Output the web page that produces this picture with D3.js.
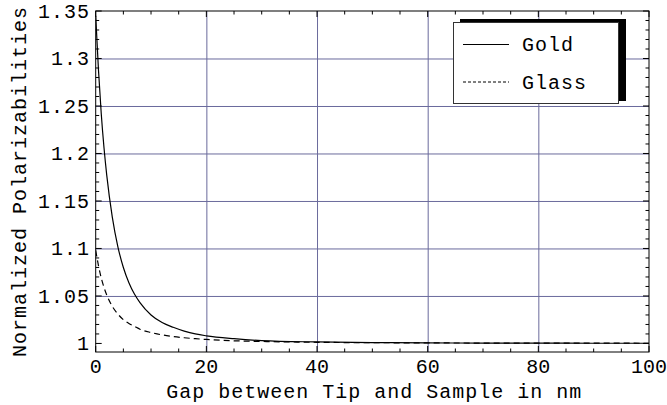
<!DOCTYPE html>
<html>
<head>
<meta charset="utf-8">
<script src="https://cdn.jsdelivr.net/npm/d3@7"></script>
<style>
  body { margin: 0; background: #fff; }
  text { font-family: "Liberation Mono", "DejaVu Sans Mono", monospace; }
</style>
</head>
<body>
<script>
// gap in nm
let gaps = [0, 0.5, 1, 1.5, 2, 3, 4, 5, 6, 7, 8, 10, 12, 14, 16, 18, 20, 25, 30, 40, 50, 60, 70, 80, 90, 100];
let goldValues = [1.345, 1.288, 1.242, 1.206, 1.177, 1.133, 1.102, 1.080, 1.064, 1.052, 1.043, 1.030, 1.022, 1.017,
    1.013, 1.010, 1.008, 1.005, 1.003, 1.0016, 1.0009, 1.0006, 1.0004, 1.0003, 1.0002, 1.0002];
let glassValues = [1.098, 1.082, 1.069, 1.059, 1.051, 1.039, 1.031, 1.025, 1.021, 1.018, 1.015, 1.0115, 1.009, 1.0073,
    1.006, 1.005, 1.0042, 1.0028, 1.0021, 1.0012, 1.0008, 1.0006, 1.0004, 1.0003, 1.0003, 1.0002];
let xTicks = [0, 20, 40, 60, 80, 100];
let yTicks = [1, 1.05, 1.1, 1.15, 1.2, 1.25, 1.3, 1.35];
let yTickLabels = ['1', '1.05', '1.1', '1.15', '1.2', '1.25', '1.3', '1.35'];
let seriesNames = ['Gold', 'Glass'];

let width = 667, height = 405;
let plot = {left: 95.7, right: 649, top: 11, bottom: 352};
let gridColor = '#6a6a9c';

let svg = d3.select('body').append('svg')
    .attr('width', width).attr('height', height);

let xScale = d3.scaleLinear().domain([0, 100]).range([plot.left, plot.right]);
let yScale = d3.scaleLinear().domain([0.991, 1.35]).range([plot.bottom, plot.top]);

let plotW = plot.right - plot.left, plotH = plot.bottom - plot.top;

// grid lines
svg.append('g')
    .attr('transform', `translate(0,${plot.bottom})`)
    .call(d3.axisBottom(xScale).tickValues([20, 40, 60, 80]).tickSize(-plotH).tickFormat(''))
    .call(g => g.select('.domain').remove())
    .call(g => g.selectAll('line').attr('stroke', gridColor));
svg.append('g')
    .attr('transform', `translate(${plot.left},0)`)
    .call(d3.axisLeft(yScale).tickValues([1.05, 1.1, 1.15, 1.2, 1.25, 1.3]).tickSize(-plotW).tickFormat(''))
    .call(g => g.select('.domain').remove())
    .call(g => g.selectAll('line').attr('stroke', gridColor));

// minor + major ticks, inward on every side
let xMinor = d3.range(0, 101, 5);
let yMinor = d3.range(1, 1.351, 0.01);
function isMajorX(v) { return Math.abs(v % 20) < 1e-6; }
function isMajorY(v) { return Math.abs(Math.round(v * 100) % 5) < 1e-6; }

[[plot.bottom, 1], [plot.top, -1]].forEach(([y0, dir]) => {
    svg.append('g').selectAll('line').data(xMinor).enter().append('line')
        .attr('x1', d => xScale(d)).attr('x2', d => xScale(d))
        .attr('y1', y0).attr('y2', d => y0 - dir * (isMajorX(d) ? 6 : 3.5))
        .attr('stroke', '#000').attr('stroke-width', 1);
});
[[plot.left, 1], [plot.right, -1]].forEach(([x0, dir]) => {
    svg.append('g').selectAll('line').data(yMinor).enter().append('line')
        .attr('y1', d => yScale(d)).attr('y2', d => yScale(d))
        .attr('x1', x0).attr('x2', d => x0 + dir * (isMajorY(d) ? 6 : 3.5))
        .attr('stroke', '#000').attr('stroke-width', 1);
});

// frame
svg.append('rect')
    .attr('x', plot.left).attr('y', plot.top)
    .attr('width', plotW).attr('height', plotH)
    .attr('fill', 'none').attr('stroke', '#000').attr('stroke-width', 1);

// tick labels
svg.append('g').selectAll('text').data(xTicks).enter().append('text')
    .attr('x', d => xScale(d)).attr('y', 373)
    .attr('text-anchor', 'middle')
    .attr('font-size', 20)
    .text(d => d);
svg.append('g').selectAll('text').data(yTicks).enter().append('text')
    .attr('x', 90).attr('y', d => yScale(d) + 7)
    .attr('text-anchor', 'end')
    .attr('font-size', 20).attr('letter-spacing', 1)
    .text((d, i) => yTickLabels[i]);

// axis titles
svg.append('text')
    .attr('x', (plot.left + plot.right) / 2 + 2).attr('y', 398)
    .attr('text-anchor', 'middle')
    .attr('font-size', 20).attr('letter-spacing', 1)
    .text('Gap between Tip and Sample in nm');
svg.append('text')
    .attr('transform', `translate(26,${(plot.top + plot.bottom) / 2}) rotate(-90)`)
    .attr('text-anchor', 'middle')
    .attr('font-size', 20).attr('letter-spacing', 1)
    .text('Normalized Polarizabilities');

// curves
let line = d3.line()
    .x((d, i) => xScale(gaps[i]))
    .y(d => yScale(d))
    .curve(d3.curveMonotoneX);

svg.append('clipPath').attr('id', 'plotClip')
    .append('rect').attr('x', plot.left).attr('y', plot.top).attr('width', plotW).attr('height', plotH);

svg.append('path')
    .datum(goldValues)
    .attr('clip-path', 'url(#plotClip)')
    .attr('fill', 'none').attr('stroke', '#000').attr('stroke-width', 1.2)
    .attr('d', line);
svg.append('path')
    .datum(glassValues)
    .attr('clip-path', 'url(#plotClip)')
    .attr('fill', 'none').attr('stroke', '#000').attr('stroke-width', 1.2)
    .attr('stroke-dasharray', '6,4')
    .attr('d', line);

// legend with drop shadow
let legend = svg.append('g');
legend.append('rect')
    .attr('x', 460).attr('y', 19).attr('width', 166).attr('height', 82)
    .attr('fill', '#000');
legend.append('rect')
    .attr('x', 453.5).attr('y', 22.5).attr('width', 165).attr('height', 81)
    .attr('fill', '#fff').attr('stroke', '#333').attr('stroke-width', 1);

seriesNames.forEach((name, i) => {
    let y = 44.5 + i * 37.5;
    legend.append('line')
        .attr('x1', 463).attr('x2', 509).attr('y1', y).attr('y2', y)
        .attr('stroke', '#000').attr('stroke-width', 1)
        .attr('stroke-dasharray', i === 1 ? '3,2' : null);
    legend.append('text')
        .attr('x', 522).attr('y', y + 6.5)
        .attr('font-size', 20).attr('letter-spacing', 1)
        .text(name);
});
</script>
</body>
</html>
